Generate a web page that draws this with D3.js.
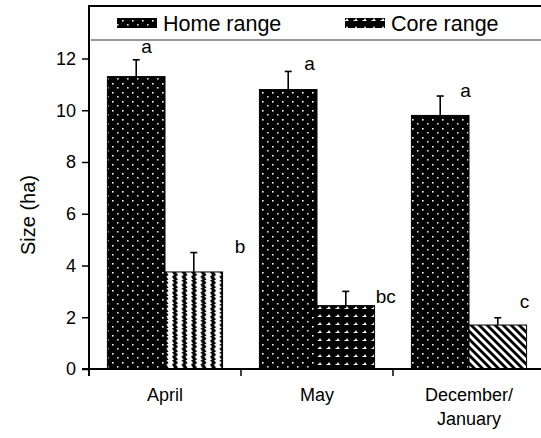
<!DOCTYPE html>
<html><head><meta charset="utf-8">
<script src="https://cdn.jsdelivr.net/npm/d3@7"></script>
<style>body{margin:0;background:#fff}svg{display:block;font-family:"Liberation Sans",Arial,sans-serif}</style>
</head><body>
<svg id="c" width="541" height="438"></svg>
<script>
const categories = ["April", "May", "December/\nJanuary"];
const seriesNames = ["Home range", "Core range"];
const homeValues = [11.3, 10.8, 9.8];
const homeErrors = [0.65, 0.7, 0.75];
const coreValues = [3.75, 2.45, 1.7];
const coreErrors = [0.75, 0.55, 0.28];
const homeLetters = ["a", "a", "a"];
const coreLetters = ["b", "bc", "c"];
const yTicks = [0, 2, 4, 6, 8, 10, 12];
const corePatterns = ["zig", "bump", "diag"];

// layout offsets for the significance letters (pixels from error-bar top)
const homeLetterOffset = [[5, -7], [16, -1], [20, 1]];
const coreLetterOffset = [[41, 0], [30, 12], [22, -10]];

const svg = d3.select("#c");
const W = 541, H = 438;
const m = {left: 89, top: 6, plotRight: 545, bottom: 369};
const x = d3.scaleBand().domain(categories).range([m.left, m.plotRight]).paddingInner(0).paddingOuter(0);
const y = d3.scaleLinear().domain([0, 12]).range([m.bottom, 58.5]);
const inner = d3.scaleBand().domain(seriesNames).range([0, x.bandwidth()]).paddingInner(0).paddingOuter(0.32);

// patterns
const defs = svg.append("defs");
function pat(id, w, h) {
  return defs.append("pattern").attr("id", id).attr("patternUnits", "userSpaceOnUse").attr("width", w).attr("height", h);
}
let p = pat("dots", 10, 9);
p.append("rect").attr("width", 10).attr("height", 9).attr("fill", "#000");
p.append("rect").attr("x", 2).attr("y", 2).attr("width", 1.6).attr("height", 1.6).attr("fill", "#fff");
p.append("rect").attr("x", 7).attr("y", 6).attr("width", 1.6).attr("height", 1.6).attr("fill", "#ddd");

p = pat("zig", 9.5, 8);
p.append("rect").attr("width", 9.5).attr("height", 8).attr("fill", "#fff");
p.append("path").attr("d", "M1,0 L5,0 L7,3 L5,4.5 L7,8 L3,8 L1,4.5 L3,3 Z").attr("fill", "#000");

p = pat("bump", 9, 8);
p.append("rect").attr("width", 9).attr("height", 8).attr("fill", "#000");
p.append("path").attr("d", "M2,5 L3,4 L4,4 L4.5,2.5 L5.5,2.5 L6,4 L7,5 Z").attr("fill", "#fff");

p = pat("diag", 8, 8);
p.append("rect").attr("width", 8).attr("height", 8).attr("fill", "#fff");
p.append("path").attr("d", "M0,0 L4,0 L8,4 L8,8 Z M0,4 L4,8 L0,8 Z").attr("fill", "#000");

// frame top and legend separator
svg.append("line").attr("x1", m.left).attr("x2", W).attr("y1", m.top).attr("y2", m.top).attr("stroke", "#000").attr("stroke-width", 2);
svg.append("line").attr("x1", m.left + 2).attr("x2", W).attr("y1", 40).attr("y2", 40).attr("stroke", "#333").attr("stroke-width", 1.2);

// bars
const g = svg.append("g");
categories.forEach((c, i) => {
  const rows = [
    {s: "Home range", v: homeValues[i], e: homeErrors[i], l: homeLetters[i], f: "url(#dots)", o: homeLetterOffset[i]},
    {s: "Core range", v: coreValues[i], e: coreErrors[i], l: coreLetters[i], f: "url(#" + corePatterns[i] + ")", o: coreLetterOffset[i]}
  ];
  rows.forEach(r => {
    const bx = x(c) + inner(r.s), bw = inner.bandwidth();
    g.append("rect").attr("x", bx).attr("y", y(r.v)).attr("width", bw).attr("height", y(0) - y(r.v))
      .attr("fill", r.f).attr("stroke", "#000").attr("stroke-width", 1);
    const cx = bx + bw / 2;
    g.append("line").attr("x1", cx).attr("x2", cx).attr("y1", y(r.v)).attr("y2", y(r.v + r.e)).attr("stroke", "#000").attr("stroke-width", 1.6);
    g.append("line").attr("x1", cx - 3.5).attr("x2", cx + 3.5).attr("y1", y(r.v + r.e)).attr("y2", y(r.v + r.e)).attr("stroke", "#000").attr("stroke-width", 1.6);
    g.append("text").attr("x", cx + r.o[0]).attr("y", y(r.v + r.e) + r.o[1]).attr("font-size", 19).attr("text-anchor", "start").text(r.l);
  });
});

// axes
const yAxis = d3.axisLeft(y).tickValues(yTicks).tickSize(7).tickPadding(6).tickFormat(d3.format("d"));
const ya = svg.append("g").attr("transform", `translate(${m.left},0)`).call(yAxis);
ya.select(".domain").remove();
ya.selectAll("line").attr("stroke-width", 1.5);
ya.selectAll("text").attr("font-size", 18).attr("font-family", "Liberation Sans, Arial, sans-serif").attr("fill", "#000");
svg.append("line").attr("x1", m.left).attr("x2", m.left).attr("y1", m.top - 1).attr("y2", m.bottom + 7).attr("stroke", "#000").attr("stroke-width", 2);

const xa = svg.append("g").attr("transform", `translate(0,${m.bottom})`);
xa.append("line").attr("x1", m.left - 7).attr("x2", W).attr("y1", 0).attr("y2", 0).attr("stroke", "#000").attr("stroke-width", 2);
xa.selectAll(".tk").data(categories).join("line").attr("class", "tk")
  .attr("x1", d => x(d)).attr("x2", d => x(d)).attr("y1", 0).attr("y2", 7).attr("stroke", "#000").attr("stroke-width", 1.5);
xa.selectAll(".lb").data(categories).join("text").attr("class", "lb")
  .attr("x", d => x(d) + x.bandwidth() / 2).attr("y", 32).attr("text-anchor", "middle").attr("font-size", 18)
  .each(function(d) {
    const parts = d.split("\n");
    d3.select(this).selectAll("tspan").data(parts).join("tspan")
      .attr("x", x(d) + x.bandwidth() / 2).attr("dy", (t, k) => k === 0 ? 0 : 24).text(t => t);
  });

// y label
svg.append("text").attr("transform", "translate(35,215) rotate(-90)").attr("text-anchor", "middle").attr("font-size", 20).text("Size (ha)");

// legend
const legFills = ["url(#dots)", "url(#bump)"];
const legX = [117, 345];
seriesNames.forEach((s, i) => {
  svg.append("rect").attr("x", legX[i]).attr("y", 18).attr("width", 40).attr("height", 10).attr("fill", legFills[i]);
  svg.append("text").attr("x", legX[i] + 46).attr("y", 31).attr("font-size", 21.5).text(s);
});
</script>
</body></html>
